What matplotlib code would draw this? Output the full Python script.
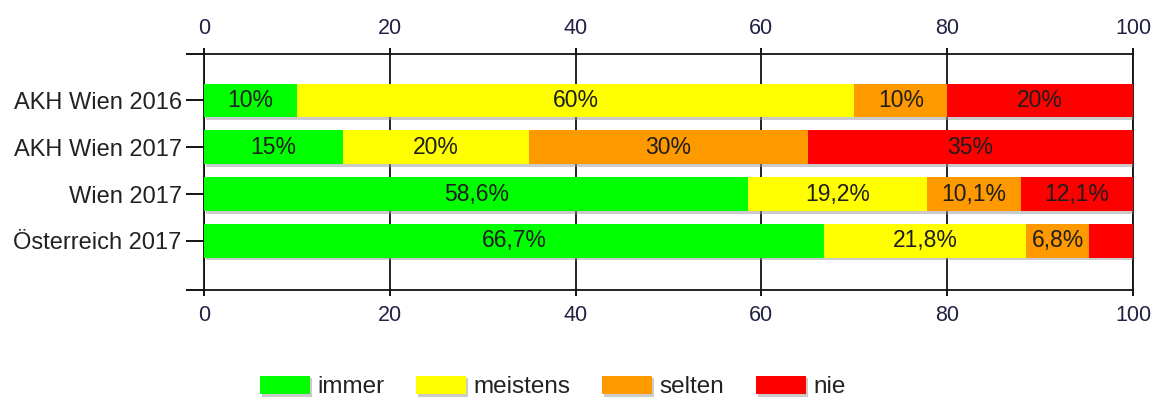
import matplotlib
matplotlib.use("Agg")
import matplotlib.pyplot as plt
import matplotlib.patheffects as pe
import numpy as np

categories = ["AKH Wien 2016", "AKH Wien 2017", "Wien 2017", "Österreich 2017"]
series_names = ["immer", "meistens", "selten", "nie"]
immer = [10, 15, 58.6, 66.7]
meistens = [60, 20, 19.2, 21.8]
selten = [10, 30, 10.1, 6.8]
nie = [20, 35, 12.1, 4.7]
labels_immer = ["10%", "15%", "58,6%", "66,7%"]
labels_meistens = ["60%", "20%", "19,2%", "21,8%"]
labels_selten = ["10%", "30%", "10,1%", "6,8%"]
labels_nie = ["20%", "35%", "12,1%", ""]
colors = ["#00ff00", "#ffff00", "#ff9900", "#ff0000"]
xticks = [0, 20, 40, 60, 80, 100]

plt.rcParams['font.family'] = ['Liberation Sans', 'DejaVu Sans']
fig = plt.figure(figsize=(11.62, 4.01), dpi=100)
ax = fig.add_axes([204/1162, 1-290/401, (1133-204)/1162, (290-54)/401])

ylo, yhi = 4.05, -0.99
y = np.arange(len(categories))
left = np.zeros(len(categories))
all_vals = [immer, meistens, selten, nie]
all_labels = [labels_immer, labels_meistens, labels_selten, labels_nie]
shadow = [pe.SimplePatchShadow(offset=(1.5, -2), shadow_rgbFace="#999999", alpha=0.5), pe.Normal()]
for vals, labs, col, name in zip(all_vals, all_labels, colors, series_names):
    ax.barh(y, vals, left=left, height=0.72, color=col, label=name, zorder=3,
            path_effects=shadow)
    for i, (v, l) in enumerate(zip(vals, labs)):
        if l:
            ax.text(left[i] + v/2, y[i], l, ha='center', va='center', fontsize=16.5,
                    color='#1e1e1e', zorder=4)
    left = left + np.array(vals)

ax.set_xlim(0, 100)
ax.set_ylim(ylo, yhi)
ax.set_yticks(y)
ax.set_yticks([yhi, ylo], minor=True)
ax.set_yticklabels(categories, fontsize=17, color='#222222')
ax.set_xticks(xticks)
ax.tick_params(axis='x', top=True, labeltop=True, bottom=True, labelbottom=True,
               labelsize=15.5, labelcolor='#222244', length=4, width=1.3, pad=7, direction='out')
ax.tick_params(axis='y', which='both', length=13, width=1.3, pad=3, direction='out')
ax.grid(axis='x', color='#111111', linewidth=1.3, zorder=0)
ax.set_axisbelow(True)
for s in ax.spines.values():
    s.set_linewidth(1.3)
    s.set_color('#111111')

handles, labs = ax.get_legend_handles_labels()
leg = fig.legend(handles, labs, loc='center', bbox_to_anchor=(553/1162, 1-387/401), ncol=4,
                 frameon=False, fontsize=17.5, handlelength=2.06, handleheight=0.78,
                 columnspacing=1.3, handletextpad=0.3)
for h in leg.legend_handles:
    h.set_path_effects(shadow)
for t in leg.get_texts():
    t.set_color('#222222')

fig.savefig("out.png", dpi=100)
